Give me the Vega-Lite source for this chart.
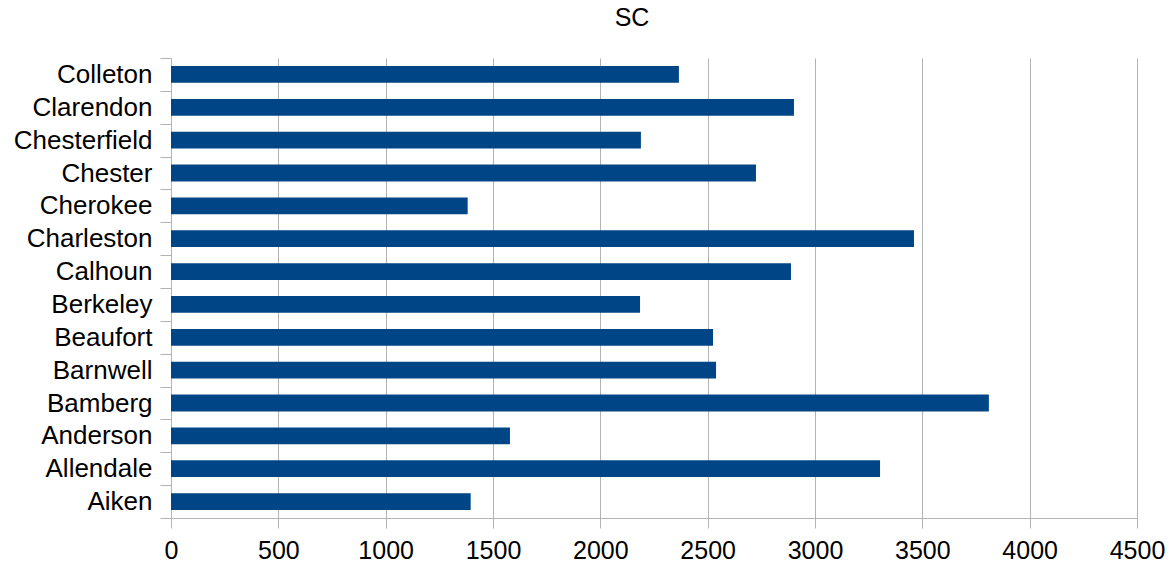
{
  "$schema": "https://vega.github.io/schema/vega-lite/v6.json",
  "width": 966,
  "height": 460,
  "autosize": "none",
  "padding": {"left": 171, "top": 58, "right": 32, "bottom": 49},
  "background": "white",
  "title": {
    "text": "SC",
    "font": "Liberation Sans",
    "fontSize": 25,
    "fontWeight": "normal",
    "color": "#000000",
    "anchor": "middle",
    "dx": -22,
    "dy": 10,
    "offset": 4,
    "baseline": "alphabetic"
  },
  "data": {
    "values": [
      {"county": "Colleton", "value": 2366},
      {"county": "Clarendon", "value": 2902},
      {"county": "Chesterfield", "value": 2189},
      {"county": "Chester", "value": 2725},
      {"county": "Cherokee", "value": 1382},
      {"county": "Charleston", "value": 3461},
      {"county": "Calhoun", "value": 2888},
      {"county": "Berkeley", "value": 2185},
      {"county": "Beaufort", "value": 2525},
      {"county": "Barnwell", "value": 2539},
      {"county": "Bamberg", "value": 3810},
      {"county": "Anderson", "value": 1579},
      {"county": "Allendale", "value": 3303},
      {"county": "Aiken", "value": 1396}
    ]
  },
  "mark": {"type": "bar", "color": "#004586", "height": {"band": 0.51}},
  "encoding": {
    "y": {
      "field": "county",
      "type": "nominal",
      "sort": "descending",
      "scale": {"paddingInner": 0, "paddingOuter": 0},
      "axis": {
        "title": null,
        "tickBand": "extent",
        "labelFont": "Liberation Sans",
        "labelFontSize": 26,
        "labelColor": "#000000",
        "labelPadding": 8,
        "tickSize": 11,
        "tickColor": "#b3b3b3",
        "domainColor": "#b3b3b3",
        "grid": false
      }
    },
    "x": {
      "field": "value",
      "type": "quantitative",
      "scale": {"domain": [0, 4500], "nice": false},
      "axis": {
        "title": null,
        "values": [0, 500, 1000, 1500, 2000, 2500, 3000, 3500, 4000, 4500],
        "format": "d",
        "labelFlush": false,
        "labelFont": "Liberation Sans",
        "labelFontSize": 25,
        "labelColor": "#000000",
        "labelPadding": 10,
        "tickSize": 10,
        "tickColor": "#b3b3b3",
        "domainColor": "#b3b3b3",
        "gridColor": "#b3b3b3",
        "grid": true
      }
    }
  },
  "config": {"view": {"stroke": null}}
}
